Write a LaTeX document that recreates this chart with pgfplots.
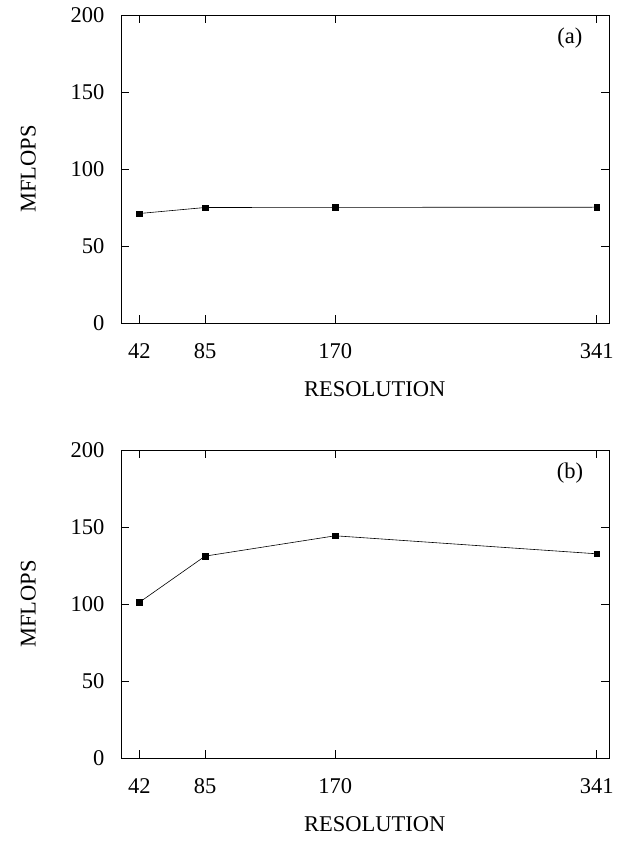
\documentclass[border=0pt]{standalone}
\usepackage{fontspec}
\setmainfont{Liberation Serif}
\usepackage{pgfplots}
\pgfplotsset{compat=1.18}
\begin{document}
\fontsize{22.5}{27}\selectfont
\begin{tikzpicture}[x=1pt,y=1pt]
\path[use as bounding box] (0pt,-841pt) rectangle (622pt,0pt);
\pgfplotsset{myax/.style={
  scale only axis, width=488pt, height=308pt,
  xmin=30, xmax=349, ymin=0, ymax=200,
  xtick={42,85,170,341}, ytick={0,50,100,150,200},
  xtick pos=both, ytick pos=both,
  tick align=inside, major tick length=8pt,
  axis line style={black, line width=0.8pt},
  tick style={black, line width=0.6pt},
  /pgf/number format/assume math mode=true,
  tick label style={font=\fontsize{22.5}{27}\selectfont},
  label style={font=\fontsize{22.5}{27}\selectfont},
  xticklabel style={yshift=-13pt},
  yticklabel style={xshift=-9pt},
  xlabel={RESOLUTION}, ylabel={MFLOPS},
  xlabel style={at={(axis description cs:0.52,-0.215)}, anchor=center},
  ylabel style={at={(axis description cs:-0.19,0.5)}, anchor=center},
}}
\begin{axis}[myax, at={(121pt,-323pt)}, anchor=south west]
\addplot[black, line width=0.6pt, mark=square*, mark size=2.7pt, mark options={solid}] coordinates {(42,71.1) (85,75.0) (170,75.1) (341,75.2)};
\node[font=\fontsize{22.5}{27}\selectfont] at (axis description cs:0.92,0.925) {(a)};
\end{axis}
\begin{axis}[myax, at={(121pt,-758pt)}, anchor=south west]
\addplot[black, line width=0.6pt, mark=square*, mark size=2.7pt, mark options={solid}] coordinates {(42,101.1) (85,131.1) (170,144.3) (341,132.6)};
\node[font=\fontsize{22.5}{27}\selectfont] at (axis description cs:0.92,0.925) {(b)};
\end{axis}
\end{tikzpicture}
\end{document}
